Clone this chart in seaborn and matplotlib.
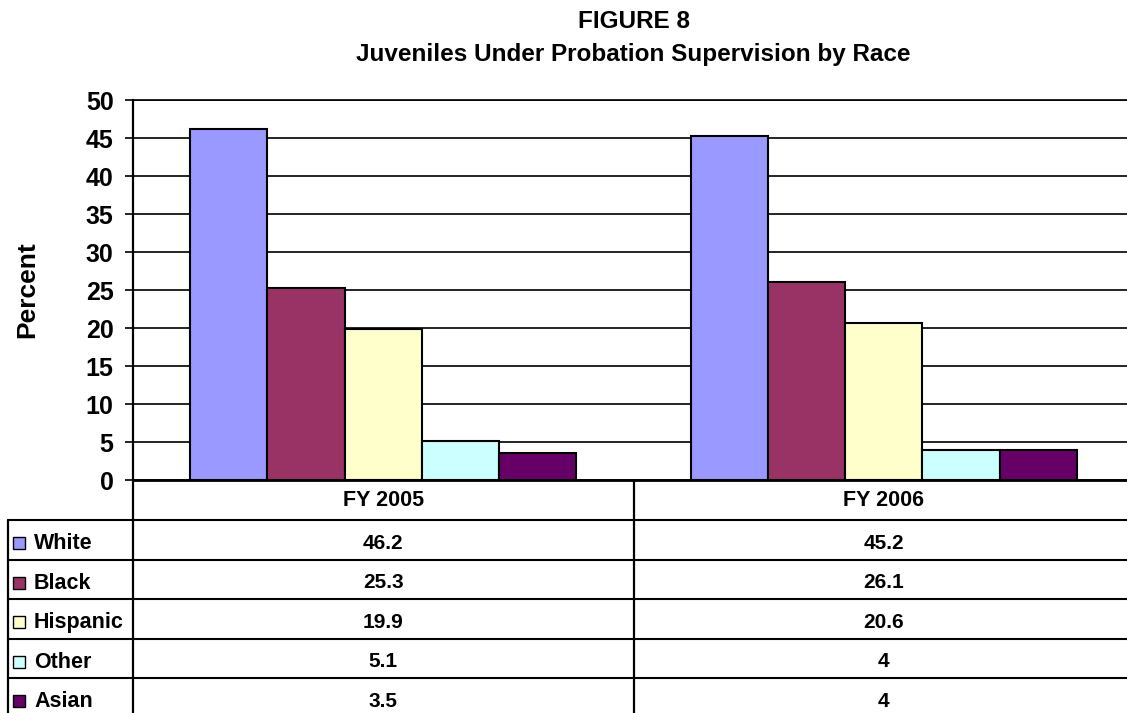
import matplotlib
matplotlib.use("Agg")
import matplotlib.pyplot as plt
from matplotlib.patches import Rectangle
import seaborn as sns
import pandas as pd

# ---- data ----
years = ["FY 2005", "FY 2006"]
races = ["White", "Black", "Hispanic", "Other", "Asian"]
white = [46.2, 45.2]
black = [25.3, 26.1]
hispanic = [19.9, 20.6]
other = [5.1, 4]
asian = [3.5, 4]
race_colors = ["#9999FF", "#993366", "#FFFFCC", "#CCFFFF", "#660066"]
y_ticks = [0, 5, 10, 15, 20, 25, 30, 35, 40, 45, 50]
title_lines = ["FIGURE 8", "Juveniles Under Probation Supervision by Race"]

series = dict(zip(races, [white, black, hispanic, other, asian]))
df = pd.DataFrame(
    [{"year": y, "race": r, "percent": v}
     for r in races for y, v in zip(years, series[r])]
)

sns.set_theme(style="white")
plt.rcParams["font.family"] = ["Liberation Sans", "DejaVu Sans"]
plt.rcParams["font.weight"] = "bold"

W, H = 1127, 713
fig = plt.figure(figsize=(W / 100, H / 100), dpi=100)
fig.patch.set_facecolor("white")

# plot area (pixels): left, right, top, bottom
L, R, T, B = 133, 1134, 100, 480
ax = fig.add_axes([L / W, 1 - B / H, (R - L) / W, (B - T) / H])

sns.barplot(
    data=df, x="year", y="percent", hue="race", hue_order=races,
    order=years, palette=race_colors, saturation=1, width=0.772,
    edgecolor="black", linewidth=1.5, legend=False, ax=ax, zorder=3,
)

ax.set_xlim(-0.5, len(years) - 0.5)
ax.set_ylim(0, 50)
ax.set_yticks(y_ticks)
ax.set_yticklabels([str(t) for t in y_ticks], fontsize=18, fontweight="bold")
ax.set_xticks([])
ax.set_xlabel("")
ax.yaxis.grid(True, color="black", linewidth=1.2)
ax.set_axisbelow(True)
ax.tick_params(axis="y", which="major", left=True, length=6, width=1.2,
               color="black", pad=8, labelcolor="black")
ax.spines["right"].set_visible(False)
ax.spines["top"].set_color("black")
ax.spines["top"].set_linewidth(1.2)
ax.spines["left"].set_color("black")
ax.spines["left"].set_linewidth(1.6)
ax.spines["bottom"].set_color("black")
ax.spines["bottom"].set_linewidth(2.0)

ax.set_ylabel("Percent", fontsize=19, fontweight="bold", color="black")
ax.yaxis.set_label_coords((39 - L) / (R - L), 0.5)

# ---- title ----
cx = (L + R) / 2
fig.text(cx / W, 1 - 22 / H, title_lines[0], ha="center", va="center",
         fontsize=17.5, fontweight="bold", color="black")
fig.text(cx / W, 1 - 54 / H, title_lines[1], ha="center", va="center",
         fontsize=17.5, fontweight="bold", color="black")

# ---- data table below the axis ----
tab = fig.add_axes([0, 0, 1, 1], zorder=5)
tab.set_xlim(0, W)
tab.set_ylim(H, 0)
tab.axis("off")
tab.patch.set_visible(False)

def px_x(xdata):
    return ax.transData.transform((xdata, 0))[0]

col_centers = [px_x(i) for i in range(len(years))]
col_edges = [px_x(i - 0.5) for i in range(len(years) + 1)]

header_bottom = 520
row_h = 39.5
label_left = 8
lw = 1.5
bottom_y = H + 10

# verticals
for xe in col_edges:
    tab.plot([xe] * 2, [B, bottom_y], color="black", lw=1.6)
tab.plot([label_left] * 2, [header_bottom, bottom_y], color="black", lw=1.6)

# header row
for xc, yr in zip(col_centers, years):
    tab.text(xc, (B + header_bottom) / 2 + 1, yr, ha="center", va="center",
             fontsize=15.5, fontweight="bold", color="black")

for i, race in enumerate(races):
    top = header_bottom + i * row_h
    tab.plot([label_left, W + 10], [top, top], color="black", lw=lw)
    yc = top + row_h / 2
    tab.add_patch(Rectangle((13, yc - 2.5), 12, 12, facecolor=race_colors[i],
                            edgecolor="black", lw=1.0))
    tab.text(34, yc + 4, race, ha="left", va="center", fontsize=15.5,
             fontweight="bold", color="black")
    for xc, v in zip(col_centers, series[race]):
        tab.text(xc, yc + 3.5, f"{v:g}", ha="center", va="center", fontsize=15,
                 fontweight="bold", color="black")
last = header_bottom + len(races) * row_h
tab.plot([label_left, W + 10], [last, last], color="black", lw=lw)

fig.savefig("out.png", dpi=100, facecolor="white")
